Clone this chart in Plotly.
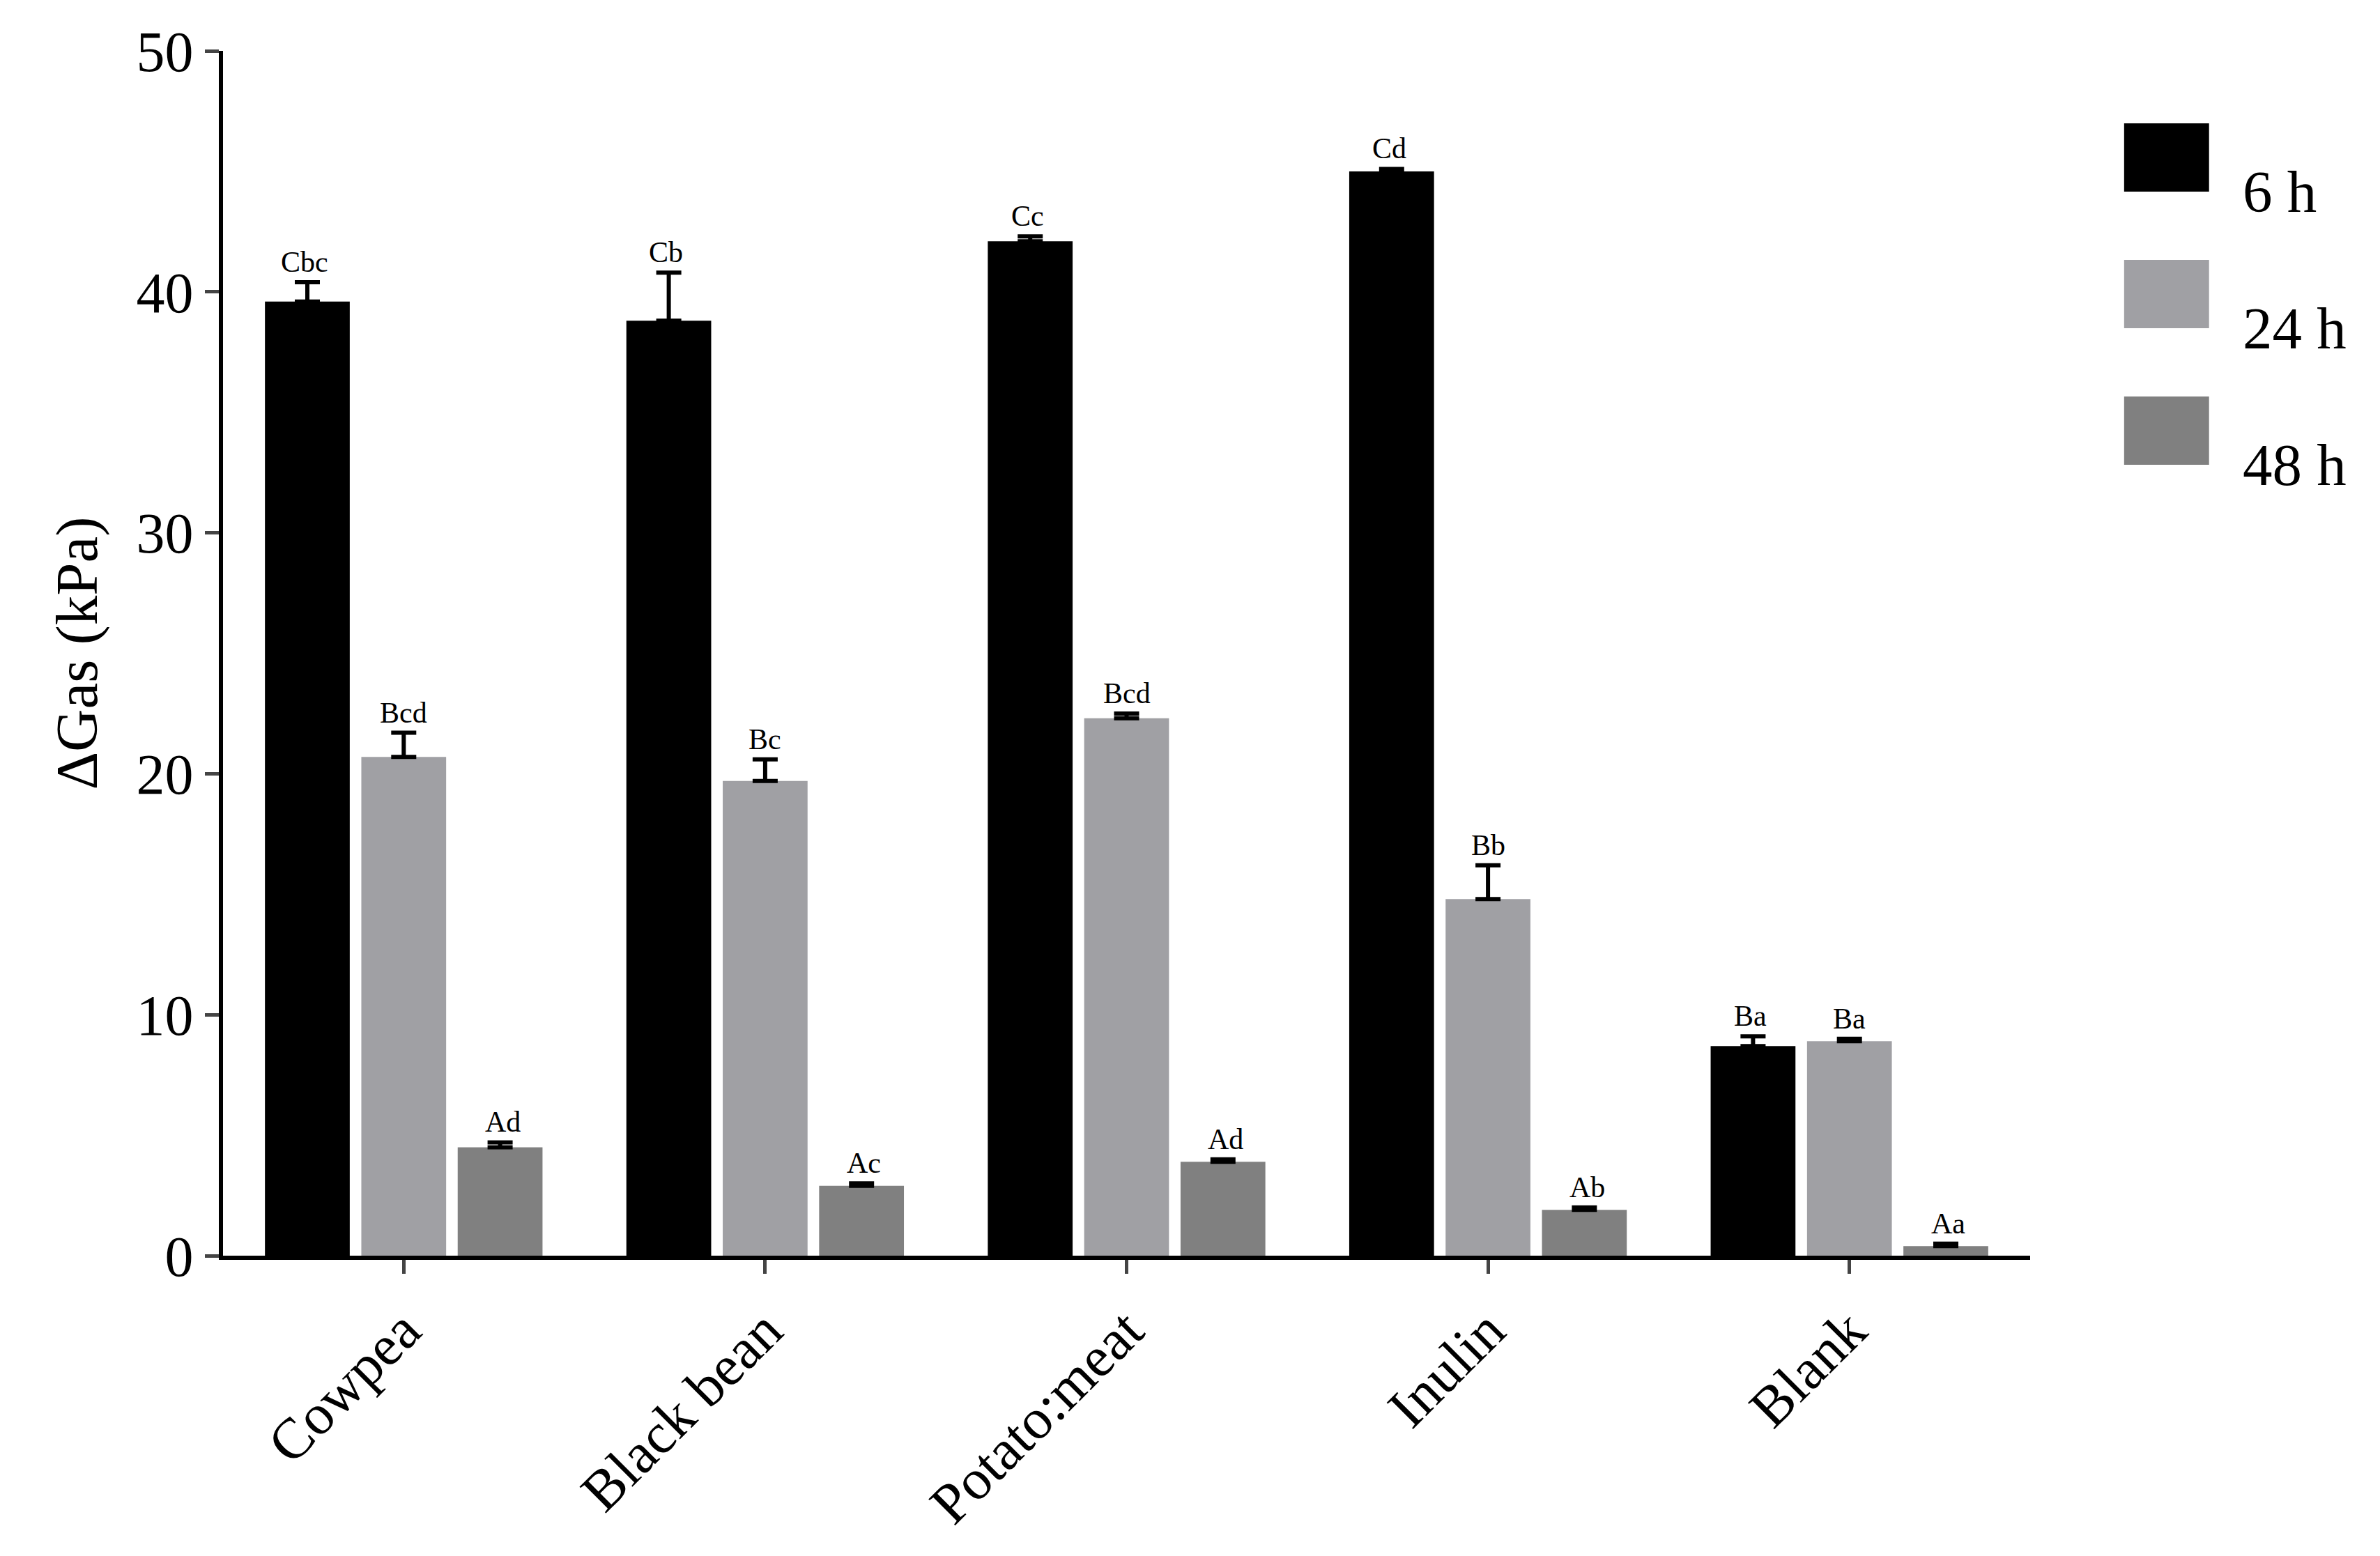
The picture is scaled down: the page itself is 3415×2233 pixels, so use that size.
import plotly.graph_objects as go

categories = ["Cowpea", "Black bean", "Potato:meat", "Inulin", "Blank"]
series = ["6 h", "24 h", "48 h"]
colors = ["#000000", "#a0a0a4", "#808080"]
values = [
    [39.6, 38.8, 42.1, 45.0, 8.7],
    [20.7, 19.7, 22.3, 14.8, 8.9],
    [4.5, 2.9, 3.9, 1.9, 0.4],
]
errors = [
    [0.8, 2.0, 0.2, 0.1, 0.4],
    [1.0, 0.9, 0.2, 1.4, 0.1],
    [0.2, 0.1, 0.1, 0.1, 0.1],
]
letters = [
    ["Cbc", "Cb", "Cc", "Cd", "Ba"],
    ["Bcd", "Bc", "Bcd", "Bb", "Ba"],
    ["Ad", "Ac", "Ad", "Ab", "Aa"],
]

font = "Liberation Serif"
fig = go.Figure()
for i, s in enumerate(series):
    fig.add_trace(go.Bar(
        x=categories, y=values[i], name=s, marker_color=colors[i],
        marker_line_width=0,
        error_y=dict(type="data", array=errors[i], arrayminus=[0]*5,
                     symmetric=False, color="black", thickness=6, width=18),
        showlegend=False,
    ))
    for j, c in enumerate(categories):
        fig.add_annotation(x=c, y=values[i][j] + errors[i][j], text=letters[i][j],
                           xshift=(i - 1) * 142, yshift=4, yanchor="bottom",
                           showarrow=False, font=dict(family=font, size=42, color="black"))

H = 1729
for i, s in enumerate(series):
    yc = [153, 349, 545][i]
    y0 = (1794 - (yc - 49) - 65) / H
    y1 = (1794 - (yc + 49) - 65) / H
    fig.add_shape(type="rect", xref="paper", yref="paper", x0=1.052, x1=1.099,
                  y0=y1, y1=y0, fillcolor=colors[i], line=dict(width=0))
    fig.add_annotation(xref="paper", yref="paper", x=1.117, y=(y0 + y1) / 2,
                       text=s, showarrow=False, xanchor="left",
                       font=dict(family=font, size=85, color="black"))

fig.update_layout(
    width=3415, height=2233, plot_bgcolor="white", paper_bgcolor="white",
    margin=dict(l=312, r=510, t=65, b=439),
    barmode="group", bargap=0.2, bargroupgap=0.12,
    font=dict(family=font, color="black"),
)
fig.update_xaxes(showline=True, linecolor="black", linewidth=6, ticks="outside",
                 ticklen=20, tickwidth=5, tickangle=-45,
                 tickfont=dict(family=font, size=82))
fig.update_yaxes(range=[0, 50], dtick=10, showline=True, linecolor="black", linewidth=6,
                 ticks="outside", ticklen=20, tickwidth=5, showgrid=False, zeroline=False,
                 tickfont=dict(family=font, size=82),
                 title=dict(text="ΔGas (kPa)", font=dict(family=font, size=85), standoff=30))
fig.write_html("out.html")
